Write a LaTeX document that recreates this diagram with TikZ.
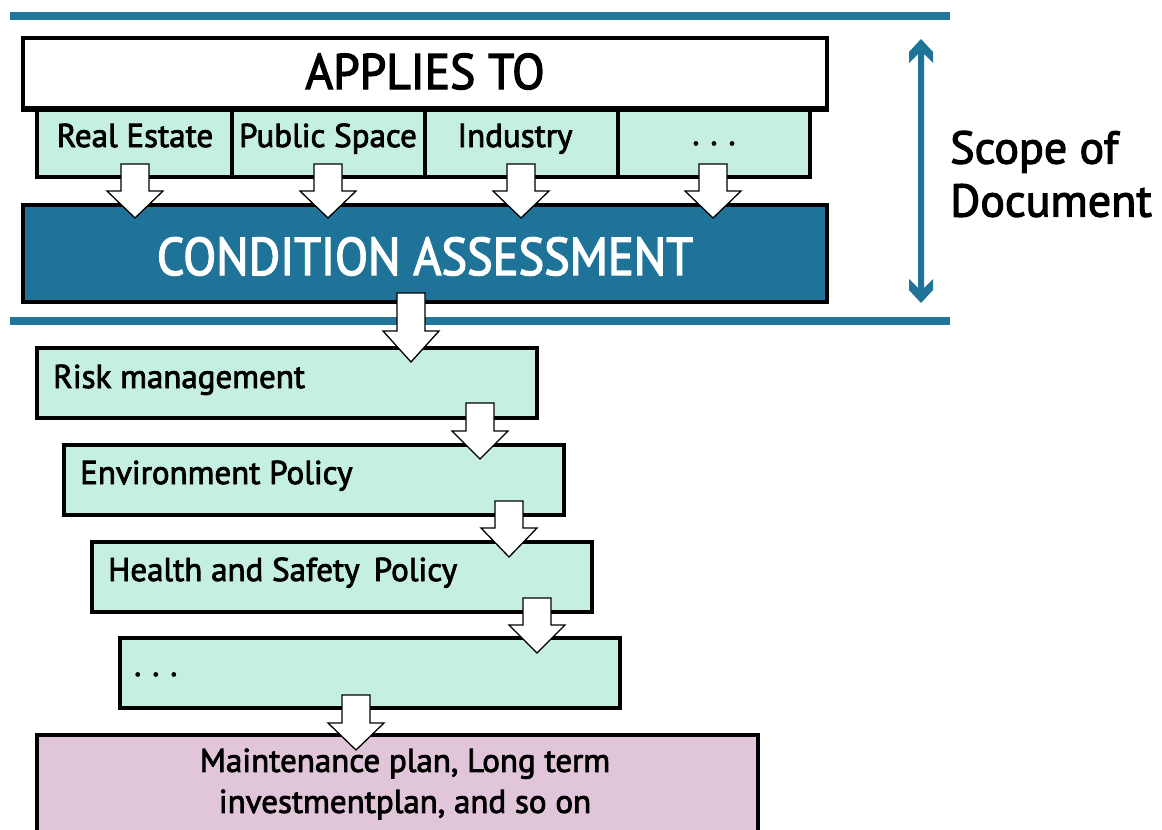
\documentclass[tikz,border=0pt]{standalone}
\usepackage{fontspec}
\setmainfont{PT Sans}[FakeBold=2.5]
\newfontfamily\narrowfont{PT Sans}[FakeBold=2.5, FakeStretch=0.95]
\newfontfamily\canarrow{PT Sans}[FakeBold=2.5, FakeStretch=0.91]
\definecolor{cablue}{HTML}{1F7398}
\definecolor{linblue}{HTML}{21769B}
\definecolor{ltgreen}{HTML}{C6EFE3}
\definecolor{ltpink}{HTML}{E1C6DA}
\newcommand\blockdown[4]{%
  \draw[barrow] (#1-14,#2) -- (#1+14,#2) -- (#1+14,#3) -- (#1+28,#3) -- (#1,#4) -- (#1-28,#3) -- (#1-14,#3) -- cycle;}
\begin{document}
\begin{tikzpicture}[x=1pt,y=-1pt,
  box/.style={draw=black, line width=3.5pt, inner sep=0pt, rectangle},
  barrow/.style={draw=black, fill=white, line width=1.3pt, line join=miter},
  fbig/.style={font=\narrowfont\fontsize{50}{56}\selectfont},
  fmid/.style={font=\fontsize{33}{38}\selectfont},
  fscope/.style={font=\fontsize{46}{53}\selectfont, align=left},
  ftxt/.style={inner sep=0pt}]
\useasboundingbox (0,0) rectangle (1162,830);
% blue scope lines
\draw[linblue, line width=8pt] (10,16) coordinate (lt1) -- (950,16) coordinate (lt2);
\draw[linblue, line width=8pt] (10,321) coordinate (lb1) -- (950,321) coordinate (lb2);
% applies to
\node[box, fill=white, minimum width=804pt, minimum height=70pt] (applies) at (425,73) {};
\node[ftxt, fbig, anchor=base] (appliest) at (425,89) {APPLIES TO};
% sub boxes
\node[box, fill=ltgreen, minimum width=195pt, minimum height=69pt] (re) at (134.5,142.5) {};
\node[box, fill=ltgreen, minimum width=193pt, minimum height=69pt] (ps) at (328.5,142.5) {};
\node[box, fill=ltgreen, minimum width=193pt, minimum height=69pt] (ind) at (521.5,142.5) {};
\node[box, fill=ltgreen, minimum width=192pt, minimum height=69pt] (etc) at (714,142.5) {};
\draw[line width=3.5pt] (applies.south west) -- (applies.south east);
\node[ftxt, fmid, anchor=base] (ret) at (135,147) {Real Estate};
\node[ftxt, fmid, anchor=base] (pst) at (328,147) {Public Space};
\node[ftxt, fmid, anchor=base] (indt) at (515,147) {Industry};
\node[ftxt, fmid, anchor=base] (etct) at (714,145) {.\,\,.\,\,.};
% condition assessment
\node[box, fill=cablue, minimum width=804pt, minimum height=97pt] (ca) at (425,253.5) {};
\node[ftxt, font=\canarrow\fontsize{53}{60}\selectfont, text=white, anchor=base] (cat) at (425,275) {CONDITION ASSESSMENT};
% arrows into CA
\blockdown{135}{164}{191}{218}
\blockdown{328}{164}{191}{218}
\blockdown{521}{164}{191}{218}
\blockdown{713}{164}{191}{218}
% scope double arrow
\fill[cablue] (921,39) -- (933,52) -- (933,63) -- (924,54) -- (924,288) -- (933,279) -- (933,290) -- (921,303) -- (909,290) -- (909,279) -- (918,288) -- (918,54) -- (909,63) -- (909,52) -- cycle;
\node[ftxt, fscope, anchor=west] (scope) at (950,174) {Scope of\\Document};
% policy chain
\node[box, fill=ltgreen, minimum width=500pt, minimum height=70pt] (risk) at (287,383) {};
\node[ftxt, fmid, anchor=base west] (riskt) at (53,388) {Risk management};
\node[box, fill=ltgreen, minimum width=500pt, minimum height=70pt] (env) at (314,480) {};
\node[ftxt, fmid, anchor=base west] (envt) at (80,484) {Environment Policy};
\node[box, fill=ltgreen, minimum width=500pt, minimum height=70pt] (hs) at (342,577) {};
\node[ftxt, fmid, anchor=base west] (hst) at (108,581) {Health and Safety\, Policy};
\node[box, fill=ltgreen, minimum width=500pt, minimum height=70pt] (dots) at (370,673) {};
\node[ftxt, fmid, anchor=base west] (dotst) at (134,676) {.\,\,.\,\,.};
\node[box, fill=ltpink, minimum width=721pt, minimum height=120pt] (maint) at (397.5,795) {};
\node[ftxt, font=\fontsize{33}{41}\selectfont, align=center] (maintt) at (405,784) {Maintenance plan, Long term\\investmentplan, and so on};
% chain arrows
\blockdown{411}{293}{331}{362}
\blockdown{480}{403}{431}{459}
\blockdown{509}{501}{528}{557}
\blockdown{537}{598}{625}{653}
\blockdown{356}{695}{723}{750}
\end{tikzpicture}
\end{document}
